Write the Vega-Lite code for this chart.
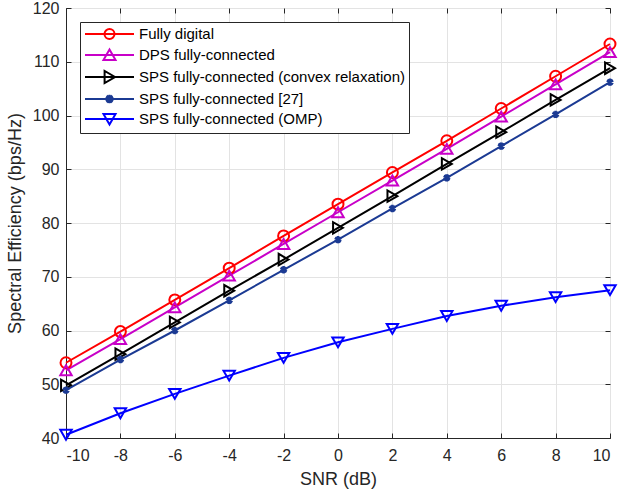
{
  "$schema": "https://vega.github.io/schema/vega-lite/v6.json",
  "width": 544,
  "height": 430,
  "autosize": {"type": "none"},
  "padding": {"left": 66, "top": 8, "right": 8, "bottom": 55},
  "background": "white",
  "config": {
    "font": "Liberation Sans",
    "view": {"stroke": "#262626", "strokeWidth": 1}
  },
  "data": {
    "values": [
      {"snr": -10, "se": 54.0, "series": "Fully digital"},
      {"snr": -8, "se": 59.8, "series": "Fully digital"},
      {"snr": -6, "se": 65.7, "series": "Fully digital"},
      {"snr": -4, "se": 71.6, "series": "Fully digital"},
      {"snr": -2, "se": 77.6, "series": "Fully digital"},
      {"snr": 0, "se": 83.5, "series": "Fully digital"},
      {"snr": 2, "se": 89.4, "series": "Fully digital"},
      {"snr": 4, "se": 95.3, "series": "Fully digital"},
      {"snr": 6, "se": 101.3, "series": "Fully digital"},
      {"snr": 8, "se": 107.3, "series": "Fully digital"},
      {"snr": 10, "se": 113.3, "series": "Fully digital"},
      {"snr": -10, "se": 52.6, "series": "DPS fully-connected"},
      {"snr": -8, "se": 58.4, "series": "DPS fully-connected"},
      {"snr": -6, "se": 64.3, "series": "DPS fully-connected"},
      {"snr": -4, "se": 70.2, "series": "DPS fully-connected"},
      {"snr": -2, "se": 76.1, "series": "DPS fully-connected"},
      {"snr": 0, "se": 82.0, "series": "DPS fully-connected"},
      {"snr": 2, "se": 87.9, "series": "DPS fully-connected"},
      {"snr": 4, "se": 93.8, "series": "DPS fully-connected"},
      {"snr": 6, "se": 99.8, "series": "DPS fully-connected"},
      {"snr": 8, "se": 105.8, "series": "DPS fully-connected"},
      {"snr": 10, "se": 111.8, "series": "DPS fully-connected"},
      {"snr": -10, "se": 49.8, "series": "SPS fully-connected (convex relaxation)"},
      {"snr": -8, "se": 55.6, "series": "SPS fully-connected (convex relaxation)"},
      {"snr": -6, "se": 61.5, "series": "SPS fully-connected (convex relaxation)"},
      {"snr": -4, "se": 67.4, "series": "SPS fully-connected (convex relaxation)"},
      {"snr": -2, "se": 73.2, "series": "SPS fully-connected (convex relaxation)"},
      {"snr": 0, "se": 79.1, "series": "SPS fully-connected (convex relaxation)"},
      {"snr": 2, "se": 85.0, "series": "SPS fully-connected (convex relaxation)"},
      {"snr": 4, "se": 91.0, "series": "SPS fully-connected (convex relaxation)"},
      {"snr": 6, "se": 96.9, "series": "SPS fully-connected (convex relaxation)"},
      {"snr": 8, "se": 102.9, "series": "SPS fully-connected (convex relaxation)"},
      {"snr": 10, "se": 108.8, "series": "SPS fully-connected (convex relaxation)"},
      {"snr": -10, "se": 48.9, "series": "SPS fully-connected [27]"},
      {"snr": -8, "se": 54.6, "series": "SPS fully-connected [27]"},
      {"snr": -6, "se": 60.0, "series": "SPS fully-connected [27]"},
      {"snr": -4, "se": 65.6, "series": "SPS fully-connected [27]"},
      {"snr": -2, "se": 71.3, "series": "SPS fully-connected [27]"},
      {"snr": 0, "se": 76.9, "series": "SPS fully-connected [27]"},
      {"snr": 2, "se": 82.7, "series": "SPS fully-connected [27]"},
      {"snr": 4, "se": 88.4, "series": "SPS fully-connected [27]"},
      {"snr": 6, "se": 94.3, "series": "SPS fully-connected [27]"},
      {"snr": 8, "se": 100.2, "series": "SPS fully-connected [27]"},
      {"snr": 10, "se": 106.2, "series": "SPS fully-connected [27]"},
      {"snr": -10, "se": 40.6, "series": "SPS fully-connected (OMP)"},
      {"snr": -8, "se": 44.6, "series": "SPS fully-connected (OMP)"},
      {"snr": -6, "se": 48.2, "series": "SPS fully-connected (OMP)"},
      {"snr": -4, "se": 51.6, "series": "SPS fully-connected (OMP)"},
      {"snr": -2, "se": 54.9, "series": "SPS fully-connected (OMP)"},
      {"snr": 0, "se": 57.8, "series": "SPS fully-connected (OMP)"},
      {"snr": 2, "se": 60.3, "series": "SPS fully-connected (OMP)"},
      {"snr": 4, "se": 62.7, "series": "SPS fully-connected (OMP)"},
      {"snr": 6, "se": 64.6, "series": "SPS fully-connected (OMP)"},
      {"snr": 8, "se": 66.2, "series": "SPS fully-connected (OMP)"},
      {"snr": 10, "se": 67.5, "series": "SPS fully-connected (OMP)"}
    ]
  },
  "resolve": {"axis": {"x": "independent", "y": "independent"}},
  "layer": [
    {
      "mark": {"type": "line", "strokeWidth": 2},
      "encoding": {
        "x": {
          "field": "snr", "type": "quantitative",
          "scale": {"domain": [-10, 10], "nice": false},
          "axis": {
            "values": [-10, -8, -6, -4, -2, 0, 2, 4, 6, 8, 10], "labelExpr": "'' + datum.value",
            "title": "SNR (dB)", "labelPadding": 14, "titlePadding": 7, "grid": true,
            "labelFont": "Liberation Sans", "labelFontSize": 16, "labelColor": "#262626",
            "titleFont": "Liberation Sans", "titleFontSize": 18, "titleFontWeight": "normal", "titleColor": "#262626",
            "domainColor": "#262626", "tickColor": "#262626", "tickSize": -5, "gridColor": "#e3e3e3"
          }
        },
        "y": {
          "field": "se", "type": "quantitative",
          "scale": {"domain": [40, 120], "nice": false, "zero": false},
          "axis": {
            "values": [40, 50, 60, 70, 80, 90, 100, 110, 120],
            "title": "Spectral Efficiency (bps/Hz)", "labelPadding": 12, "titlePadding": 8, "grid": true,
            "labelFont": "Liberation Sans", "labelFontSize": 16, "labelColor": "#262626",
            "titleFont": "Liberation Sans", "titleFontSize": 18, "titleFontWeight": "normal", "titleColor": "#262626",
            "domainColor": "#262626", "tickColor": "#262626", "tickSize": -5, "gridColor": "#e3e3e3"
          }
        },
        "color": {
          "field": "series", "type": "nominal",
          "scale": {
            "domain": ["Fully digital", "DPS fully-connected", "SPS fully-connected (convex relaxation)", "SPS fully-connected [27]", "SPS fully-connected (OMP)"],
            "range": ["#ff0000", "#c800c8", "#000000", "#1b3a93", "#0000ff"]
          }
        }
      }
    },
    {
      "mark": {"type": "point", "filled": false, "size": 120, "strokeWidth": 2, "opacity": 0},
      "encoding": {
        "x": {
          "field": "snr", "type": "quantitative",
          "axis": {"orient": "top", "values": [-10, -8, -6, -4, -2, 0, 2, 4, 6, 8, 10], "labels": false, "title": null, "grid": false, "domain": false, "tickSize": -5, "tickColor": "#262626"}
        },
        "y": {
          "field": "se", "type": "quantitative",
          "axis": {"orient": "right", "values": [40, 50, 60, 70, 80, 90, 100, 110, 120], "labels": false, "title": null, "grid": false, "domain": false, "tickSize": -5, "tickColor": "#262626"}
        },
        "color": {
          "field": "series", "type": "nominal",
          "legend": {
            "title": null, "orient": "none", "legendX": 14, "legendY": 14, "padding": 4,
            "strokeColor": "#262626", "fillColor": "white",
            "labelFont": "Liberation Sans", "labelFontSize": 15, "labelColor": "#000000", "labelLimit": 500,
            "symbolSize": 196, "symbolOpacity": 1, "labelOffset": 39, "rowPadding": 2, "symbolStrokeWidth": 2
          }
        },
        "shape": {
          "field": "series", "type": "nominal",
          "scale": {
            "domain": ["Fully digital", "DPS fully-connected", "SPS fully-connected (convex relaxation)", "SPS fully-connected [27]", "SPS fully-connected (OMP)"],
            "range": [
              "M-1,0L6,0M3.214,0A0.714,0.714 0 1,1 1.786,0A0.714,0.714 0 1,1 3.214,0Z",
              "M-1,0L6,0M2.5,-0.8L3.36,0.7L1.64,0.7Z",
              "M-1,0L6,0M3.3,0L1.8,-0.86L1.8,0.86Z",
              "M-1,0L6,0M2.5,-0.6L2.5,0.6M1.98,-0.3L3.02,0.3M1.98,0.3L3.02,-0.3M2.15,-0.52L2.85,0.52M2.15,0.52L2.85,-0.52",
              "M-1,0L6,0M2.5,0.8L3.36,-0.7L1.64,-0.7Z"
            ]
          },
          "legend": {
            "title": null, "orient": "none", "legendX": 14, "legendY": 14, "padding": 4,
            "strokeColor": "#262626", "fillColor": "white",
            "labelFont": "Liberation Sans", "labelFontSize": 15, "labelColor": "#000000", "labelLimit": 500,
            "symbolSize": 196, "symbolOpacity": 1, "labelOffset": 39, "rowPadding": 2, "symbolStrokeWidth": 2
          }
        }
      }
    },
    {
      "transform": [{"filter": "datum.series === 'Fully digital'"}],
      "mark": {"type": "point", "shape": "circle", "filled": false, "size": 120, "strokeWidth": 2, "opacity": 1},
      "encoding": {
        "x": {"field": "snr", "type": "quantitative", "axis": null},
        "y": {"field": "se", "type": "quantitative", "axis": null},
        "color": {"field": "series", "type": "nominal"}
      }
    },
    {
      "transform": [{"filter": "datum.series === 'DPS fully-connected'"}],
      "mark": {"type": "point", "shape": "triangle-up", "filled": false, "size": 130, "strokeWidth": 2, "opacity": 1},
      "encoding": {
        "x": {"field": "snr", "type": "quantitative", "axis": null},
        "y": {"field": "se", "type": "quantitative", "axis": null},
        "color": {"field": "series", "type": "nominal"}
      }
    },
    {
      "transform": [{"filter": "datum.series === 'SPS fully-connected (convex relaxation)'"}],
      "mark": {"type": "point", "shape": "triangle-right", "filled": false, "size": 130, "strokeWidth": 2, "opacity": 1},
      "encoding": {
        "x": {"field": "snr", "type": "quantitative", "axis": null},
        "y": {"field": "se", "type": "quantitative", "axis": null},
        "color": {"field": "series", "type": "nominal"}
      }
    },
    {
      "transform": [{"filter": "datum.series === 'SPS fully-connected [27]'"}],
      "mark": {"type": "point", "shape": "M0,-0.7L0,0.7M-0.6,-0.35L0.6,0.35M-0.6,0.35L0.6,-0.35M-0.35,-0.6L0.35,0.6M-0.35,0.6L0.35,-0.6", "filled": false, "size": 110, "strokeWidth": 2.5, "opacity": 1},
      "encoding": {
        "x": {"field": "snr", "type": "quantitative", "axis": null},
        "y": {"field": "se", "type": "quantitative", "axis": null},
        "color": {"field": "series", "type": "nominal"}
      }
    },
    {
      "transform": [{"filter": "datum.series === 'SPS fully-connected (OMP)'"}],
      "mark": {"type": "point", "shape": "triangle-down", "filled": false, "size": 130, "strokeWidth": 2, "opacity": 1},
      "encoding": {
        "x": {"field": "snr", "type": "quantitative", "axis": null},
        "y": {"field": "se", "type": "quantitative", "axis": null},
        "color": {"field": "series", "type": "nominal"}
      }
    }
  ]
}
